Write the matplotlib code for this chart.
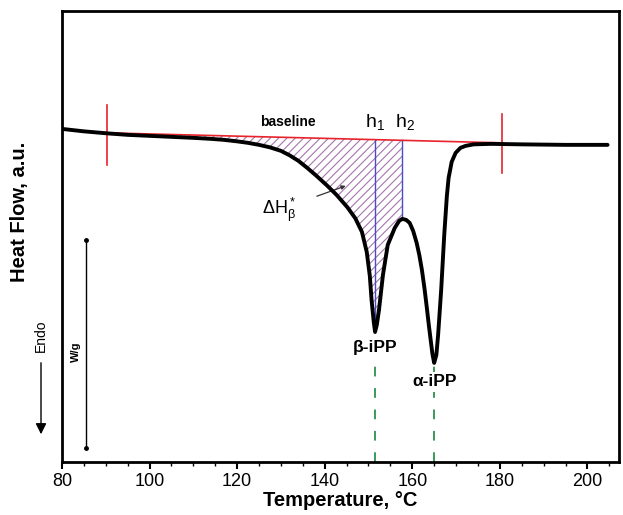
import numpy as np
import matplotlib
matplotlib.use("Agg")
import matplotlib.pyplot as plt

plt.rcParams['font.family'] = ['Liberation Sans', 'DejaVu Sans']
plt.rcParams['mathtext.fontset'] = 'custom'
plt.rcParams['mathtext.rm'] = 'Liberation Sans'
plt.rcParams['mathtext.it'] = 'Liberation Sans'
plt.rcParams['mathtext.bf'] = 'Liberation Sans:bold'
plt.rcParams['hatch.linewidth'] = 0.8

# DSC melting curve of iPP (heat flow in arbitrary units, endo down)
temperature = [79.9, 85.0, 90.3, 95.0, 100.0, 105.0, 110.0, 114.0, 117.0, 120.0,
               122.5, 125.0, 127.5, 130.0, 132.0, 134.0, 136.0, 138.0, 140.5, 142.7,
               145.2, 147.0, 148.5, 149.6, 150.3, 150.7, 151.2, 151.5, 151.9, 152.4,
               153.3, 154.4, 156.0, 157.0, 157.7, 158.6, 159.4, 160.2, 161.0, 161.6,
               162.2, 162.8, 163.3, 163.8, 164.2, 164.6, 165.0, 165.5, 165.9, 166.6,
               167.3, 167.9, 168.3, 169.0, 169.9, 171.0, 172.2, 174.0, 178.0, 185.0,
               195.0, 204.6]
heat_flow = [3.33, 3.305, 3.285, 3.27, 3.26, 3.25, 3.24, 3.23, 3.22, 3.205,
             3.19, 3.17, 3.145, 3.11, 3.065, 3.01, 2.94, 2.865, 2.765, 2.67,
             2.545, 2.435, 2.30, 2.10, 1.86, 1.62, 1.40, 1.30, 1.37, 1.52,
             1.87, 2.17, 2.34, 2.41, 2.43, 2.42, 2.39, 2.31, 2.19, 2.07,
             1.92, 1.73, 1.55, 1.36, 1.22, 1.08, 0.99, 1.07, 1.27, 1.72,
             2.27, 2.66, 2.84, 3.00, 3.09, 3.14, 3.16, 3.175, 3.18, 3.175,
             3.17, 3.17]

# integration limits and linear baseline
base_T = [90.3, 180.5]
base_H = [3.29, 3.19]
h1_T = 151.5
h2_T = 157.7
beta_peak = 151.5
alpha_peak = 165.0

fig = plt.figure(figsize=(6.23, 5.15), dpi=100)
ax = fig.add_axes([0.0995, 0.103, 0.894, 0.876])

T = np.array(temperature)
H = np.array(heat_flow)

# hatched area between curve and baseline up to h2
mask = (T >= base_T[0]) & (T <= h2_T)
Tf = T[mask]
Hf = H[mask]
Bf = np.interp(Tf, base_T, base_H)
ax.fill_between(Tf, Hf, Bf, facecolor='white', edgecolor='#a575ae',
                hatch='////', linewidth=0, zorder=1)

# baseline and its end markers
ax.plot(base_T, base_H, color='#e8232b', lw=1.2, zorder=3)
ax.plot([base_T[0]] * 2, [3.57, 2.97], color='#e8232b', lw=1.2, zorder=3)
ax.plot([base_T[1]] * 2, [3.48, 2.89], color='#e8232b', lw=1.2, zorder=3)

# h1 / h2 verticals
for t in (h1_T, h2_T):
    hb = np.interp(t, base_T, base_H)
    hc = np.interp(t, T, H)
    ax.plot([t, t], [hc, hb], color='#4b4bc4', lw=1.0, zorder=2)

# peak markers
ax.plot([beta_peak] * 2, [0, 1.30], color='#3a9a5a', lw=1.4,
        dashes=(5, 6), zorder=2)
ax.plot([alpha_peak] * 2, [0, 0.99], color='#3a9a5a', lw=1.4,
        dashes=(5, 6), zorder=2)

# DSC curve
ax.plot(T, H, color='black', lw=2.8, solid_capstyle='round',
        solid_joinstyle='round', zorder=4)

# annotations
ax.text(131.5, 3.33, 'baseline', fontsize=10, fontweight='bold',
        ha='center', va='bottom')
ax.text(151.5, 3.30, r'h$_1$', fontsize=14, ha='center', va='bottom')
ax.text(158.3, 3.30, r'h$_2$', fontsize=14, ha='center', va='bottom')
ax.annotate(r'$\Delta$H$^*_\beta$', xy=(144.8, 2.76), xytext=(129.5, 2.52),
            fontsize=13, ha='center', va='center',
            arrowprops=dict(arrowstyle='-|>', color='#333333', lw=0.9,
                            mutation_scale=6, shrinkA=14, shrinkB=0))
ax.text(beta_peak, 1.14, 'β-iPP', fontsize=12.5, fontweight='bold',
        ha='center', va='center',
        bbox=dict(facecolor='white', edgecolor='none', pad=1.5), zorder=5)
ax.text(alpha_peak, 0.80, 'α-iPP', fontsize=12.5, fontweight='bold',
        ha='center', va='center',
        bbox=dict(facecolor='white', edgecolor='none', pad=1.5), zorder=5)

# scale bar
ax.plot([85.4, 85.4], [0.14, 2.22], color='black', lw=1.0, marker='o',
        markersize=2.5, zorder=3)
ax.text(83.2, 1.10, 'W/g', rotation=90, fontsize=8, fontweight='bold',
        ha='center', va='center')

ax.set_xlim(80, 207.2)
ax.set_ylim(0, 4.51)
ax.set_xticks([80, 100, 120, 140, 160, 180, 200])
ax.set_xticks(np.arange(80, 207, 5), minor=True)
ax.set_yticks([])
ax.tick_params(axis='x', which='major', direction='out', length=5, width=1.5,
               labelsize=13, pad=3)
ax.tick_params(axis='x', which='minor', direction='out', length=3, width=1.0)
for s in ax.spines.values():
    s.set_linewidth(2.0)
ax.set_xlabel('Temperature, °C', fontsize=14.5, fontweight='bold', labelpad=1)

# y label and endo direction
fig.text(20 / 623, 1 - 212 / 515, 'Heat Flow, a.u.', rotation=90,
         fontsize=14.5, fontweight='bold', ha='center', va='center')
fig.text(41 / 623, 1 - 336 / 515, 'Endo', rotation=90, fontsize=10,
         ha='center', va='center')
fig.add_artist(matplotlib.patches.FancyArrowPatch(
    (41 / 623, 1 - 360 / 515), (41 / 623, 1 - 437 / 515),
    transform=fig.transFigure, arrowstyle='-|>', mutation_scale=16,
    color='black', lw=1.0))

fig.savefig('out.png', dpi=100)
